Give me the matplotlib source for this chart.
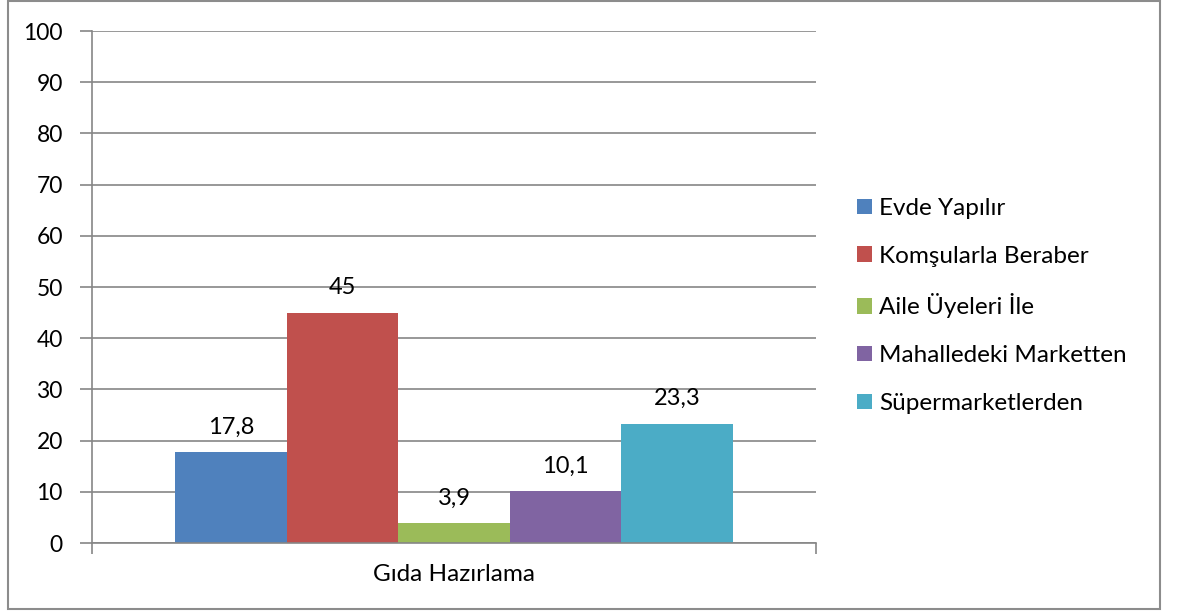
import matplotlib.pyplot as plt
from matplotlib.patches import Rectangle

plt.rcParams['font.family'] = ['Lato', 'DejaVu Sans']

category = "Gıda Hazırlama"
series = ["Evde Yapılır", "Komşularla Beraber", "Aile Üyeleri İle",
          "Mahalledeki Marketten", "Süpermarketlerden"]
values = [17.8, 45, 3.9, 10.1, 23.3]
value_labels = ["17,8", "45", "3,9", "10,1", "23,3"]
colors = ["#4f81bd", "#c0504d", "#9bbb59", "#8064a2", "#4bacc6"]
yticks = list(range(0, 101, 10))

W, H = 1177, 615
fig = plt.figure(figsize=(W / 100, H / 100), dpi=100)
ax = fig.add_axes([92 / W, 1 - 543 / H, (816 - 92) / W, (543 - 31) / H])

grey = "#868686"
n = len(values)
for i, (s, v, c) in enumerate(zip(series, values, colors)):
    x = i - (n - 1) / 2
    ax.bar(x, v, width=1.0, color=c, label=s, zorder=3)
    ax.annotate(value_labels[i], (x, v), xytext=(0, 18), textcoords="offset points",
                ha="center", va="center", fontsize=17, color="black", zorder=4)

half = 724 / 111.5 / 2
ax.set_xlim(-half, half)
ax.set_ylim(0, 100)
ax.set_yticks(yticks)
ax.yaxis.grid(True, color=grey, linewidth=1.2, zorder=0)
ax.tick_params(axis="y", direction="out", length=9, width=1.2, color=grey,
               labelsize=16.5, pad=12)
ax.set_xticks([-half, half])
ax.set_xticklabels(["", ""])
ax.set_xticks([0], [category], minor=True)
ax.tick_params(axis="x", which="major", direction="out", length=8, width=1.2, color=grey)
ax.tick_params(axis="x", which="minor", length=0, labelsize=17.5, pad=15)
for side in ["top", "right"]:
    ax.spines[side].set_visible(False)
for side in ["left", "bottom"]:
    ax.spines[side].set_color(grey)
    ax.spines[side].set_linewidth(1.2)
    ax.spines[side].set_zorder(5)

leg = fig.legend(loc="center left", bbox_to_anchor=(845 / W, 1 - 306 / H),
                 frameon=False, fontsize=17.5, handlelength=0.6, handleheight=0.6,
                 handletextpad=0.3, labelspacing=1.1, borderpad=0)

fig.patches.append(Rectangle((8 / W, 1 - 609 / H), (1160 - 8) / W, (609 - 1) / H,
                             transform=fig.transFigure, fill=False,
                             edgecolor="#8c8c8c", linewidth=1.5))

fig.savefig("out.png", dpi=100)
